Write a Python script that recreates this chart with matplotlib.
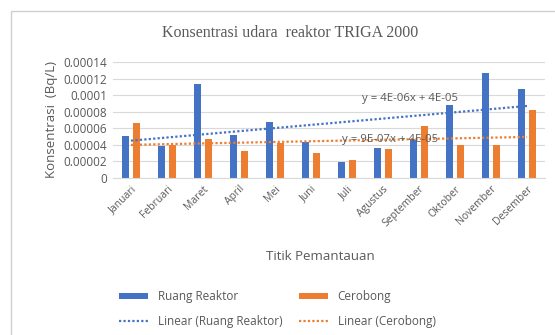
import matplotlib.pyplot as plt
import numpy as np
from matplotlib.patches import Rectangle

bulan = ['Januari', 'Februari', 'Maret', 'April', 'Mei', 'Juni', 'Juli',
         'Agustus', 'September', 'Oktober', 'November', 'Desember']
ruang_reaktor = [5.1e-5, 3.9e-5, 11.4e-5, 5.2e-5, 6.8e-5, 4.3e-5, 1.95e-5,
                 3.65e-5, 4.6e-5, 8.8e-5, 12.7e-5, 10.8e-5]
cerobong = [6.6e-5, 4.0e-5, 4.7e-5, 3.2e-5, 4.2e-5, 3.0e-5, 2.15e-5,
            3.45e-5, 6.3e-5, 3.95e-5, 3.95e-5, 8.25e-5]
yticks = [0, 0.00002, 0.00004, 0.00006, 0.00008, 0.0001, 0.00012, 0.00014]
ytick_labels = ['0', '0.00002', '0.00004', '0.00006', '0.00008', '0.0001',
                '0.00012', '0.00014']

biru = '#4472C4'
oranye = '#ED7D31'
abu = '#595959'

fig = plt.figure(figsize=(5.55, 3.35), dpi=100)
ax = fig.add_axes([113/555, 1-178/335, 432/555, 116/335])

# chart border
fig.add_artist(Rectangle((11/555, -0.1), 1.2, 1-11/335+0.1, transform=fig.transFigure,
                         fill=False, edgecolor='#D0D0D0', linewidth=1))

x = np.arange(len(bulan))
w = 0.21
b1 = ax.bar(x - 0.15, ruang_reaktor, w, color=biru, label='Ruang Reaktor', zorder=2)
b2 = ax.bar(x + 0.15, cerobong, w, color=oranye, label='Cerobong', zorder=2)

# trendlines (x = 1..12 like the spreadsheet)
n = np.arange(1, 13)
k1 = np.polyfit(n, ruang_reaktor, 1)
k2 = np.polyfit(n, cerobong, 1)
l1, = ax.plot(x, np.polyval(k1, n), linestyle=(0, (1, 1)), color=biru, lw=1.6,
              label='Linear (Ruang Reaktor)', zorder=3)
l2, = ax.plot(x, np.polyval(k2, n), linestyle=(0, (1, 1)), color=oranye, lw=1.6,
              label='Linear (Cerobong)', zorder=3)

ax.text(6.42, 0.0000965, 'y = 4E-06x + 4E-05', color=abu, fontsize=8.2,
        family='Open Sans', va='center')
ax.text(5.86, 0.0000470, 'y = 9E-07x + 4E-05', color=abu, fontsize=8.2,
        family='Open Sans', va='center')

ax.set_xlim(-0.5, 11.5)
ax.set_ylim(0, 0.00014)
ax.set_yticks(yticks)
ax.set_yticklabels(ytick_labels, fontsize=8.5, color=abu, family='Open Sans')
ax.set_xticks(x)
ax.set_xticklabels(bulan, rotation=45, ha='right', rotation_mode='anchor',
                   fontsize=7.5, color=abu, family='Open Sans')
ax.tick_params(length=0, pad=4)
ax.grid(axis='y', color='#D9D9D9', lw=0.8, zorder=0)
for s in ['top', 'right', 'left']:
    ax.spines[s].set_visible(False)
ax.spines['bottom'].set_color('#D9D9D9')

ax.set_ylabel('Konsentrasi  (Bq/L)', fontsize=9.5, color=abu, family='Open Sans')
fig.text(320/555, 1-256/335, 'Titik Pemantauan', ha='center', va='center',
         fontsize=9.5, color=abu, family='Open Sans')
fig.text(290/555, 1-33/335, 'Konsentrasi udara  reaktor TRIGA 2000', ha='center',
         va='center', fontsize=11.5, color=abu, family='Liberation Serif')

fig.legend([b1, l1, b2, l2],
           ['Ruang Reaktor', 'Linear (Ruang Reaktor)', 'Cerobong', 'Linear (Cerobong)'],
           ncol=2, frameon=False, loc='center left', bbox_to_anchor=(108/555, 1-309/335),
           prop={'family': 'Open Sans', 'size': 8.5}, labelcolor=abu,
           handlelength=2.5, handleheight=0.5, columnspacing=1.4, labelspacing=1.0,
           handletextpad=0.8)

fig.savefig('out.png', dpi=100)
